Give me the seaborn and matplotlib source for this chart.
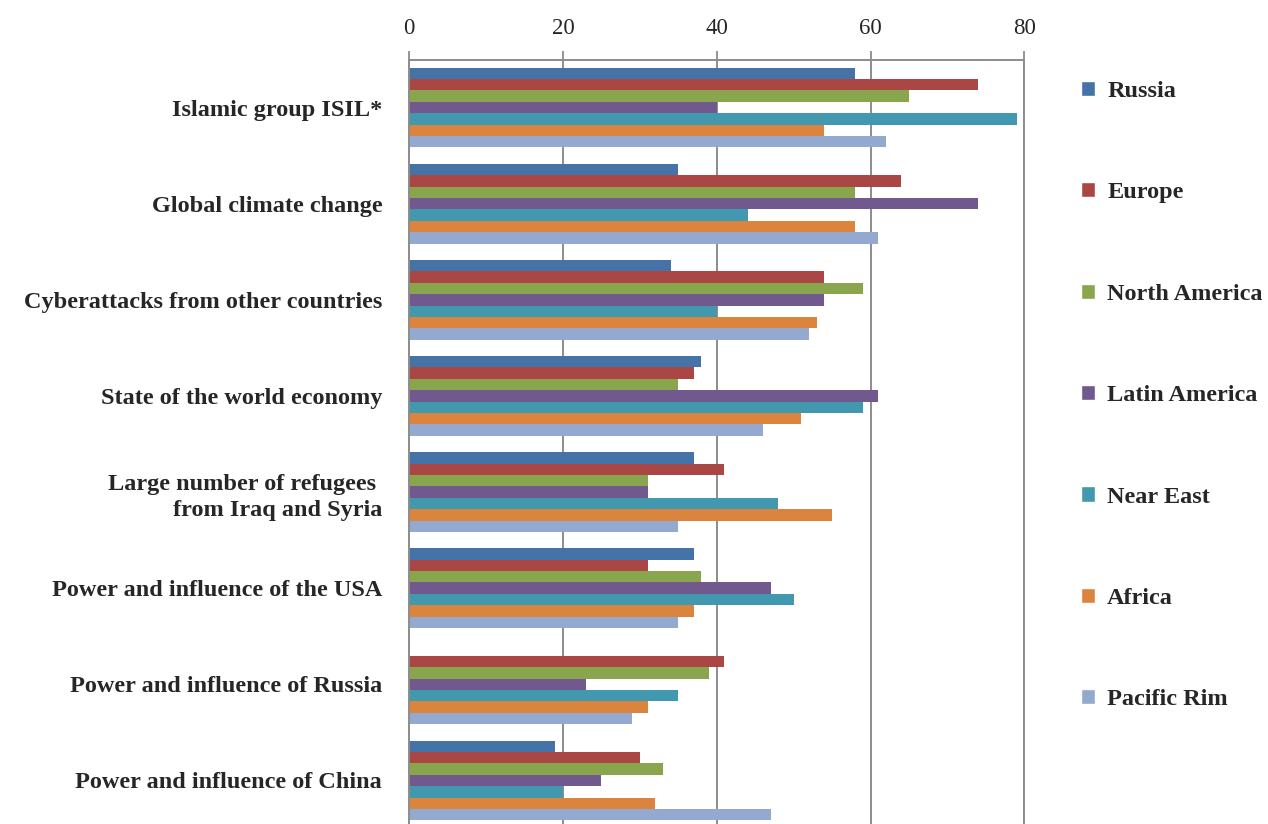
import numpy as np
import pandas as pd
import seaborn as sns
import matplotlib.pyplot as plt
from matplotlib.patches import Patch

# カテゴリ（脅威）
threats = [
    "Islamic group ISIL*",
    "Global climate change",
    "Cyberattacks from other countries",
    "State of the world economy",
    "Large number of refugees \n from Iraq and Syria",
    "Power and influence of the USA",
    "Power and influence of Russia",
    "Power and influence of China",
]

# 地域
regions = ["Russia", "Europe", "North America", "Latin America",
           "Near East", "Africa", "Pacific Rim"]

# 地域ごとの値（%）
russia = [58, 35, 34, 38, 37, 37, np.nan, 19]
europe = [74, 64, 54, 37, 41, 31, 41, 30]
north_america = [65, 58, 59, 35, 31, 38, 39, 33]
latin_america = [40, 74, 54, 61, 31, 47, 23, 25]
near_east = [79, 44, 40, 59, 48, 50, 35, 20]
africa = [54, 58, 53, 51, 55, 37, 31, 32]
pacific_rim = [62, 61, 52, 46, 35, 35, 29, 47]

# 色の設定
colors = ["#4572A7", "#AA4643", "#89A54E", "#71588F",
          "#4198AF", "#DB843D", "#93A9CF"]

series = [russia, europe, north_america, latin_america,
          near_east, africa, pacific_rim]
rows = []
for reg, vals in zip(regions, series):
    for t, v in zip(threats, vals):
        rows.append({"threat": t, "region": reg, "value": v})
df = pd.DataFrame(rows).dropna()

sns.set_style("white")
plt.rcParams['font.family'] = ['Liberation Serif', 'DejaVu Serif']

fig = plt.figure(figsize=(12.68, 8.24), dpi=100)
# 軸の位置（ピクセルから換算）
ax = fig.add_axes([409.3 / 1268, -4.5 / 824, 615 / 1268, 769 / 824])

sns.barplot(data=df, y="threat", x="value", hue="region",
            order=threats, hue_order=regions, palette=colors,
            orient="h", width=0.83, saturation=1, errorbar=None,
            linewidth=0, legend=False, ax=ax)

ax.set_xlim(0, 80)
ax.set_ylim(len(threats) - 0.5, -0.5)
ax.set_xticks([0, 20, 40, 60, 80])
ax.xaxis.tick_top()
ax.tick_params(axis="x", labelsize=16.5, length=6.5, width=1.3,
               color="#8c8c8c", pad=8.5, top=True, bottom=False)
ax.grid(axis="x", color="#8c8c8c", linewidth=1.4)
ax.set_axisbelow(True)

# y軸：区切りの目盛り
ax.set_yticks(range(len(threats)))
ax.set_yticklabels(threats, fontweight="bold", fontsize=17.5,
                   multialignment="right", linespacing=1.35)
ax.set_yticks(np.arange(-0.5, len(threats), 1), minor=True)
ax.tick_params(axis="y", which="major", length=0, pad=19.5)
ax.tick_params(axis="y", which="minor", length=6.5, color="#8c8c8c",
               width=1.3)

ax.set_xlabel("")
ax.set_ylabel("")
for side in ["left", "top", "right"]:
    ax.spines[side].set_color("#8c8c8c")
    ax.spines[side].set_linewidth(1.4)
ax.spines["bottom"].set_visible(False)

handles = [Patch(facecolor=c, label=r) for r, c in zip(regions, colors)]
fig.legend(handles=handles, loc="upper left",
           bbox_to_anchor=(1081 / 1268, 1 - 81 / 824),
           frameon=False, prop={"weight": "bold", "size": 17.5},
           borderpad=0, borderaxespad=0,
           labelspacing=3.30, handlelength=0.58, handleheight=0.58,
           handletextpad=0.5)

fig.savefig("out.png", dpi=100)
